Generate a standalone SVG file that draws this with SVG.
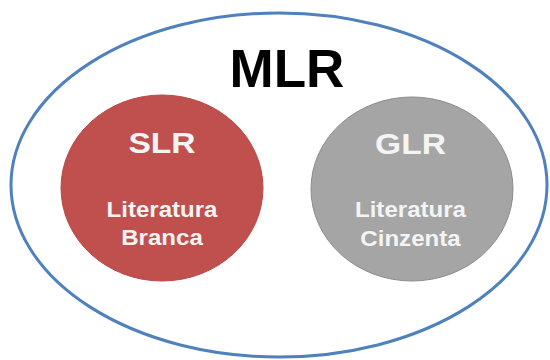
<svg xmlns="http://www.w3.org/2000/svg" width="550" height="360" viewBox="0 0 550 360">
<style>
text{font-family:"Liberation Sans",Arial,sans-serif;font-weight:bold;text-anchor:middle}
.t{fill:#f4f4f4}
</style>
<rect width="550" height="360" fill="#ffffff"/>
<g id="mlr">
<ellipse cx="279" cy="185" rx="268" ry="172" fill="none" stroke="#4f81bd" stroke-width="3"/>
<text x="287" y="87" font-size="53" fill="#000">MLR</text>
</g>
<g id="slr">
<ellipse cx="162" cy="188" rx="101" ry="93" fill="#c0504d" stroke="#b94a47" stroke-width="1"/>
<g transform="translate(162 0) scale(1.12 1) translate(-162 0)">
<text class="t" x="162" y="153" font-size="30">SLR</text>
<text class="t" x="162" y="217" font-size="21.5">Literatura</text>
<text class="t" x="162" y="245.5" font-size="21.5">Branca</text>
</g>
</g>
<g id="glr">
<ellipse cx="412" cy="189" rx="101" ry="92" fill="#a5a5a5" stroke="#8c8c8c" stroke-width="1"/>
<g transform="translate(410.5 0) scale(1.12 1) translate(-410.5 0)">
<text class="t" x="410.5" y="154" font-size="30">GLR</text>
<text class="t" x="410.5" y="217" font-size="21.5">Literatura</text>
<text class="t" x="410.5" y="246" font-size="21.5">Cinzenta</text>
</g>
</g>
<g id="connectors"/>
</svg>
